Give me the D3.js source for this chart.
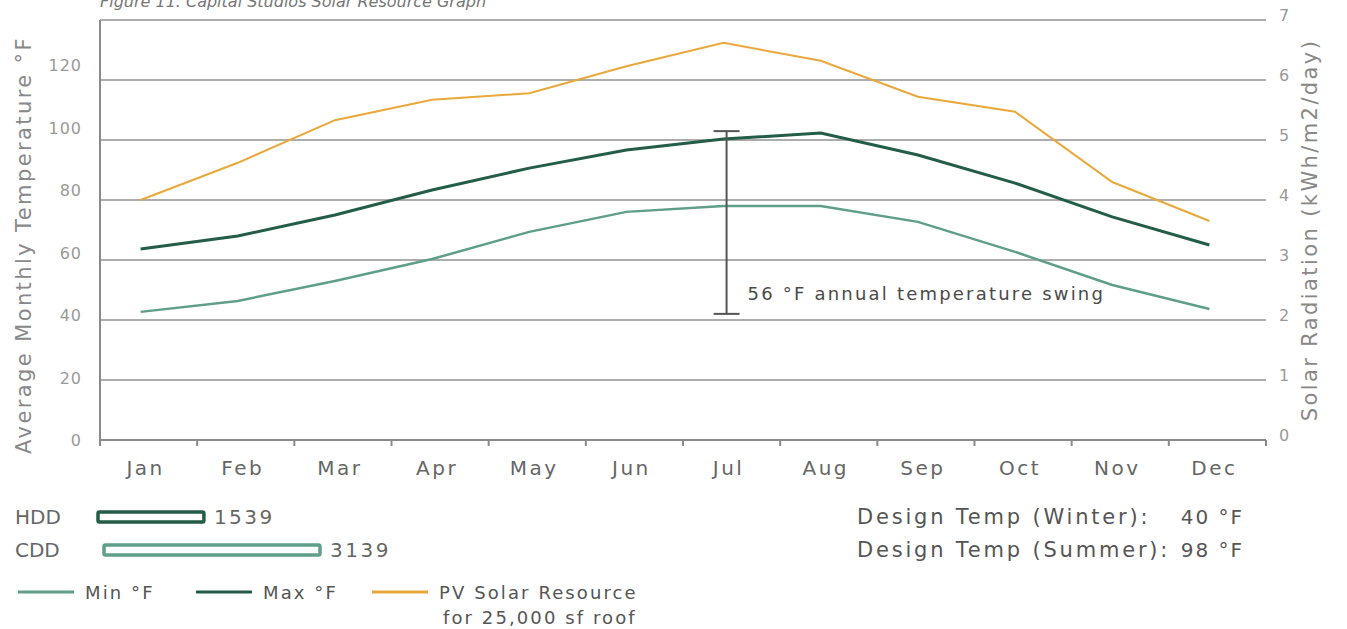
<!DOCTYPE html>
<html><head><meta charset="utf-8">
<script src="https://cdn.jsdelivr.net/npm/d3@7"></script>
<style>
body{margin:0;background:#fff;}
svg{display:block;font-family:"DejaVu Sans",sans-serif;}
</style></head>
<body><svg id="c" width="1347" height="629"></svg>
<script>
const months = ["Jan","Feb","Mar","Apr","May","Jun","Jul","Aug","Sep","Oct","Nov","Dec"];
const minTemp = [41, 44.5, 50.9, 57.9, 66.6, 73, 74.9, 74.9, 69.8, 60.2, 49.6, 41.9];
const maxTemp = [61.1, 65.3, 72, 80, 87, 92.8, 96.3, 98.2, 91.2, 82.2, 71.4, 62.4];
const pvSolar = [4.0, 4.62, 5.33, 5.67, 5.78, 6.23, 6.62, 6.32, 5.72, 5.47, 4.3, 3.65];
const tempTicks = [0, 20, 40, 60, 80, 100, 120];
const solarTicks = [0, 1, 2, 3, 4, 5, 6, 7];
const annualSwing = 56;
const ddLabels = ["HDD", "CDD"];
const ddValues = [1539, 3139];
const designLabels = ["Design Temp (Winter):", "Design Temp (Summer):"];
const designValues = ["40 °F", "98 °F"];
const legendLabels = ["Min °F", "Max °F", "PV Solar Resource"];
const title = "Figure 11. Capital Studios Solar Resource Graph";

const colMin = "#5f9e89", colMax = "#235c47", colPV = "#eaa73a";
const svg = d3.select("#c");
const L = 100, R = 1266, T = 20, B = 440;

const x = d3.scaleBand().domain(months).range([L, R]);
const xp = m => x(m) + x.bandwidth()/2 - 8;
const yT = d3.scaleLinear().domain([0, 134.4]).range([B, T]);
const yS = d3.scaleLinear().domain([0, 7]).range([B, T]);

// title
svg.append("text").attr("x", 100).attr("y", 7).attr("font-style","italic")
  .attr("font-size", 16).attr("fill", "#777").text(title);

// gridlines
svg.append("g").selectAll("line").data(solarTicks.filter(d=>d>0)).join("line")
  .attr("x1", L).attr("x2", R).attr("y1", d=>yS(d)).attr("y2", d=>yS(d))
  .attr("stroke", "#adadad").attr("stroke-width", 2);
// axes lines
svg.append("line").attr("x1", L).attr("x2", L).attr("y1", T).attr("y2", B+6).attr("stroke","#8a8a8a").attr("stroke-width",2);
svg.append("line").attr("x1", L).attr("x2", R).attr("y1", B).attr("y2", B).attr("stroke","#8a8a8a").attr("stroke-width",2);
const bounds = months.map(m=>x(m)).concat([R]);
svg.append("g").selectAll("line").data(bounds).join("line")
  .attr("x1", d=>d).attr("x2", d=>d).attr("y1", B).attr("y2", B+6)
  .attr("stroke","#8a8a8a").attr("stroke-width",2);

// month labels
svg.append("g").selectAll("text").data(months).join("text")
  .attr("x", d=>x(d)+x.bandwidth()/2 - 3).attr("y", 475).attr("text-anchor","middle")
  .attr("font-size", 20).attr("letter-spacing", 2.5).attr("fill","#666").text(d=>d);

// left tick labels
svg.append("g").selectAll("text").data(tempTicks).join("text")
  .attr("x", 82).attr("y", d=>yT(d)+6).attr("text-anchor","end")
  .attr("font-size", 16).attr("letter-spacing", 1).attr("fill","#999").text(d=>d);
// right tick labels
svg.append("g").selectAll("text").data(solarTicks).join("text")
  .attr("x", 1279).attr("y", d=>yS(d)+1).attr("text-anchor","start")
  .attr("font-size", 16).attr("fill","#999").text(d=>d);

// axis titles
svg.append("text").attr("transform","translate(31,245) rotate(-90)").attr("text-anchor","middle")
  .attr("font-size", 21).attr("letter-spacing", 2.4).attr("fill","#888").text("Average Monthly Temperature °F");
svg.append("text").attr("transform","translate(1317,230) rotate(-90)").attr("text-anchor","middle")
  .attr("font-size", 21).attr("letter-spacing", 2.4).attr("fill","#888").text("Solar Radiation (kWh/m2/day)");

// lines
const lineT = d3.line().x((d,i)=>xp(months[i])).y(d=>yT(d));
const lineS = d3.line().x((d,i)=>xp(months[i])).y(d=>yS(d));
svg.append("path").datum(pvSolar).attr("d", lineS).attr("fill","none").attr("stroke",colPV).attr("stroke-width",2);
svg.append("path").datum(minTemp).attr("d", lineT).attr("fill","none").attr("stroke",colMin).attr("stroke-width",2.5);
svg.append("path").datum(maxTemp).attr("d", lineT).attr("fill","none").attr("stroke",colMax).attr("stroke-width",3);

// swing annotation
const hi = d3.max(maxTemp), lo = d3.min(minTemp);
const sx = xp("Jul") + 3;
const ga = svg.append("g").attr("stroke","#555").attr("stroke-width",2);
ga.append("line").attr("x1",sx).attr("x2",sx).attr("y1",yT(hi)-2).attr("y2",yT(lo)+2);
ga.append("line").attr("x1",sx-13).attr("x2",sx+13).attr("y1",yT(hi)-2).attr("y2",yT(hi)-2);
ga.append("line").attr("x1",sx-13).attr("x2",sx+13).attr("y1",yT(lo)+2).attr("y2",yT(lo)+2);
svg.append("text").attr("x", sx+21).attr("y", 300).attr("font-size", 18).attr("letter-spacing",2.2)
  .attr("fill","#4a4a4a").text(annualSwing + " °F annual temperature swing");

// degree day bars
const dd = d3.scaleLinear().domain([0, 3139]).range([0, 216]);
const ddX = [98, 104], ddY = [517, 550], ddCol = [colMax, colMin];
ddLabels.forEach((lab,i)=>{
  svg.append("text").attr("x",15).attr("y",ddY[i]+7).attr("font-size",20).attr("fill","#666").text(lab);
  svg.append("rect").attr("x",ddX[i]).attr("y",ddY[i]-5).attr("width",dd(ddValues[i])).attr("height",10)
    .attr("rx",1.5).attr("fill","#fff").attr("stroke",ddCol[i]).attr("stroke-width",3.5);
  svg.append("text").attr("x",ddX[i]+dd(ddValues[i])+10).attr("y",ddY[i]+7).attr("font-size",20).attr("letter-spacing",2.5).attr("fill","#666").text(ddValues[i]);
});

// design temps
designLabels.forEach((lab,i)=>{
  svg.append("text").attr("x",857).attr("y",ddY[i]+7).attr("font-size",21).attr("letter-spacing",2.8).attr("fill","#555").text(lab);
  svg.append("text").attr("x",1244).attr("y",ddY[i]+7).attr("text-anchor","end").attr("font-size",20).attr("letter-spacing",2).attr("fill","#555").text(designValues[i]);
});

// legend
const lgX = [18, 196, 372], lgCol = [colMin, colMax, colPV];
legendLabels.forEach((lab,i)=>{
  svg.append("line").attr("x1",lgX[i]).attr("x2",lgX[i]+56).attr("y1",592).attr("y2",592)
    .attr("stroke",lgCol[i]).attr("stroke-width",3);
  svg.append("text").attr("x",lgX[i]+67).attr("y",599).attr("font-size",18).attr("letter-spacing",2.1).attr("fill","#555").text(lab);
});
svg.append("text").attr("x",443).attr("y",624).attr("font-size",18).attr("letter-spacing",2.1).attr("fill","#555").text("for 25,000 sf roof");
</script></body></html>
